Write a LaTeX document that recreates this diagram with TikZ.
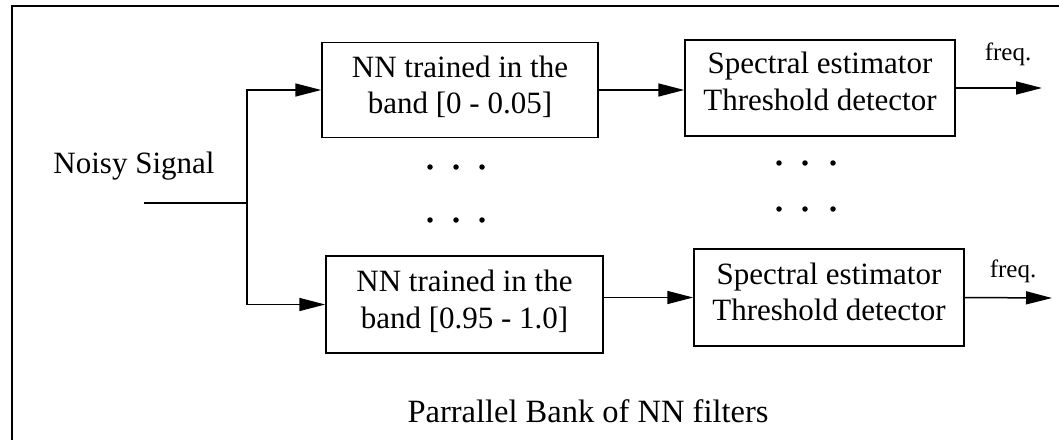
\documentclass[tikz,border=0pt]{standalone}
\usepackage{fontspec}
\setmainfont{Liberation Serif}
\usetikzlibrary{arrows.meta}
% zero-width strut that deepens the last line of a block label
\newcommand{\lowstrut}[1]{\rule[-#1pt]{0pt}{#1pt}}
\begin{document}
\begin{tikzpicture}[x=1pt,y=-1pt,
  line width=1.5pt,
  blk/.style={draw, line width=1.5pt, inner sep=0pt, align=center,
    font=\fontsize{31}{36.5}\selectfont},
  lbl/.style={inner sep=0pt, font=\fontsize{31}{36}\selectfont},
  small/.style={inner sep=0pt, font=\fontsize{25}{30}\selectfont},
  flow/.style={-{Triangle[length=26pt,width=13pt]}},
  dot/.style={circle, fill, inner sep=0pt, minimum size=5.5pt}]
\useasboundingbox (0,0) rectangle (1059,439);
% outer frame (runs off the right and bottom edges)
\draw[line width=1.3pt] (12,448) -- (12,6) -- (1070,6);

% filter blocks
\node[blk, minimum width=276pt, minimum height=95pt] (nn1) at (460,90) {NN trained in the\\band [0 - 0.05]\lowstrut{11}};
\node[blk, minimum width=277pt, minimum height=97pt] (nn2) at (464.5,304.5) {NN trained in the\\band [0.95 - 1.0]\lowstrut{11}};
\node[blk, minimum width=270pt, minimum height=96pt] (sp1) at (820,88) {Spectral estimator\\Threshold detector\lowstrut{14}};
\node[blk, minimum width=270pt, minimum height=97pt] (sp2) at (829,297.5) {Spectral estimator\\Threshold detector\lowstrut{12}};

% input
\node[lbl] (in) at (134,166) {Noisy Signal};
\coordinate (src) at (144,203);
\coordinate (split) at (247,203);
\draw (src) -- (split);
\draw[flow] (split) |- (nn1.west);
\draw[flow] (split) |- (nn2.west);

% block to block
\draw[flow] (nn1.east) -- (sp1.west |- nn1.east);
\draw[flow] (nn2.east |- sp2.west) -- (sp2.west);

% outputs
\coordinate (o1) at (1042,88);
\coordinate (o2) at (1052,298);
\draw[flow] (sp1.east) -- (o1);
\draw[flow] (sp2.east) -- (o2);
\node[small] (f1) at (1008,54) {freq.};
\node[small] (f2) at (1013,271) {freq.};

% ellipsis dots
\foreach \r/\yy in {a/167, b/220} {
  \node[dot] (l\r1) at (430,\yy) {};
  \node[dot] (l\r2) at (456,\yy) {};
  \node[dot] (l\r3) at (482,\yy) {};
}
\foreach \r/\yy in {a/163, b/209} {
  \node[dot] (r\r1) at (779,\yy) {};
  \node[dot] (r\r2) at (805,\yy) {};
  \node[dot] (r\r3) at (833,\yy) {};
}

% caption
\node[lbl, font=\fontsize{32.5}{36}\selectfont] (cap) at (588,411) {Parrallel Bank of NN filters};
\end{tikzpicture}
\end{document}
